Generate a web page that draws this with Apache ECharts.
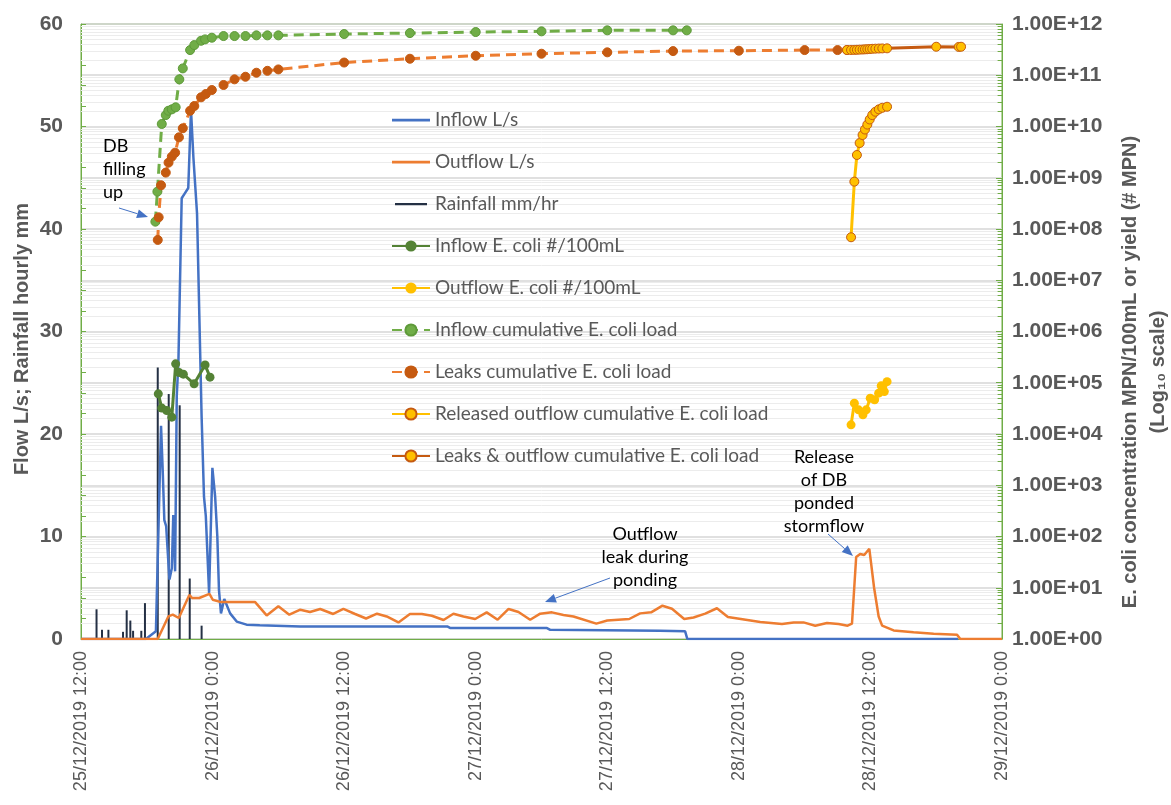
<!DOCTYPE html>
<html>
<head>
<meta charset="utf-8">
<script src="https://cdn.jsdelivr.net/npm/echarts@6/dist/echarts.min.js"></script>
<style>
  html, body { margin: 0; padding: 0; background: #ffffff; }
  #chart { width: 1171px; height: 805px; }
</style>
</head>
<body>
<div id="chart"></div>
<script>
// ---- Detention basin event, 25-29 December 2019 ----
// Times are written as "DD/MM HH:MM" (December 2019).

// Rainfall, mm/hr
const rainTimes = ['25/12 13:25','25/12 13:55','25/12 14:30','25/12 15:50','25/12 16:10','25/12 16:30','25/12 16:45',
  '25/12 17:30','25/12 17:50','25/12 19:00','25/12 20:00','25/12 21:00','25/12 21:55','25/12 23:00'];
const rainMm = [2.9, 0.9, 0.9, 0.7, 2.8, 1.8, 0.8, 0.8, 3.5, 26.5, 23.9, 22.8, 5.9, 1.3];

// Inflow, L/s
const inflowTimes = ['25/12 12:00','25/12 17:55','25/12 18:50','25/12 19:18','25/12 19:27','25/12 19:36','25/12 19:46',
  '25/12 20:04','25/12 20:17','25/12 20:25','25/12 20:35','25/12 20:44','25/12 20:53','25/12 21:11','25/12 21:29',
  '25/12 21:47','25/12 22:02','25/12 22:15','25/12 22:35','25/12 22:52','25/12 23:00','25/12 23:13','25/12 23:23',
  '25/12 23:41','25/12 23:59','26/12 00:14','26/12 00:26','26/12 00:35','26/12 00:46','26/12 01:04','26/12 01:36',
  '26/12 02:12','26/12 03:06','26/12 04:18','26/12 08:00','26/12 21:24','26/12 21:42','27/12 06:30','27/12 06:48',
  '27/12 16:48','27/12 19:06','27/12 19:18','28/12 20:00'];
const inflowLps = [0, 0, 0.75, 20.8, 16.5, 11.6, 11, 5.8, 6.9, 12.1, 6.6, 23.7, 27, 43, 43.5,
  44, 51.6, 47, 41.5, 28, 21.7, 13.9, 12, 4.5, 16.7, 13.9, 10, 4.8, 2.5, 3.9, 2.5,
  1.7, 1.4, 1.33, 1.23, 1.23, 1.07, 1.07, 0.9, 0.8, 0.75, 0, 0];

// Outflow, L/s
const outflowTimes = ['25/12 12:00','25/12 19:00','25/12 19:58','25/12 20:22','25/12 20:55','25/12 21:53','25/12 22:08',
  '25/12 22:47','25/12 23:43','26/12 00:01','26/12 00:46','26/12 03:53','26/12 04:56','26/12 06:00','26/12 07:00',
  '26/12 08:00','26/12 08:53','26/12 09:49','26/12 11:00','26/12 11:56','26/12 13:00','26/12 14:00','26/12 15:00',
  '26/12 15:53','26/12 16:57','26/12 18:00','26/12 19:05','26/12 20:00','26/12 21:04','26/12 21:58','26/12 22:53',
  '26/12 23:57','27/12 01:00','27/12 02:00','27/12 03:00','27/12 03:54','27/12 04:58','27/12 05:53','27/12 06:57',
  '27/12 08:00','27/12 08:55','27/12 11:00','27/12 12:00','27/12 14:00','27/12 15:00','27/12 16:00','27/12 17:02',
  '27/12 17:54','27/12 19:01','27/12 19:52','27/12 20:56','27/12 22:00','27/12 23:00','28/12 01:57','28/12 03:56',
  '28/12 05:00','28/12 05:54','28/12 06:58','28/12 08:02','28/12 09:06','28/12 09:55','28/12 10:19','28/12 10:42',
  '28/12 11:04','28/12 11:26','28/12 11:54','28/12 12:20','28/12 12:45','28/12 13:04','28/12 14:07','28/12 15:56',
  '28/12 17:46','28/12 19:54','28/12 20:12','29/12 00:00'];
const outflowLps = [0, 0, 2.2, 2.37, 2.05, 4.3, 4.0,
  4.0, 4.4, 3.83, 3.6, 3.6, 2.3, 3.2, 2.37,
  2.86, 2.63, 2.93, 2.44, 2.93, 2.44, 2.0, 2.47,
  2.2, 1.62, 2.44, 2.44, 2.27, 1.85, 2.47, 2.2,
  1.95, 2.6, 1.88, 2.93, 2.63, 1.88, 2.47, 2.6,
  2.34, 2.2, 1.5, 1.8, 1.95, 2.5, 2.6, 3.25,
  2.95, 1.95, 2.1, 2.47, 3.0, 2.14, 1.66, 1.46,
  1.62, 1.62, 1.3, 1.56, 1.46, 1.3, 1.5, 8.0,
  8.3, 8.2, 8.8, 5.0, 2.2, 1.3, 0.84, 0.65,
  0.52, 0.42, 0, 0];

// Inflow E. coli, MPN/100mL
const inflowEcoliTimes = ['25/12 19:03','25/12 19:22','25/12 19:49','25/12 20:17','25/12 20:38','25/12 20:57',
  '25/12 21:20','25/12 22:19','25/12 23:19','25/12 23:46'];
const inflowEcoli = [60800, 32000, 28700, 21300, 234000, 158000, 147000, 95300, 223000, 128500];

// Outflow E. coli, MPN/100mL
const outflowEcoliTimes = ['28/12 10:14','28/12 10:32','28/12 10:55','28/12 11:19','28/12 11:37','28/12 11:59',
  '28/12 12:23','28/12 12:45','28/12 12:59','28/12 13:16','28/12 13:31'];
const outflowEcoli = [15100, 40000, 29600, 23700, 29600, 50100, 46500, 62700, 87100, 67300, 105000];

// Inflow cumulative E. coli load, MPN
const inflowCumTimes = ['25/12 18:47','25/12 18:58','25/12 19:22','25/12 19:44','25/12 19:58','25/12 20:17',
  '25/12 20:38','25/12 20:58','25/12 21:17','25/12 21:57','25/12 22:20','25/12 22:57','25/12 23:19','25/12 23:56',
  '26/12 01:00','26/12 02:00','26/12 03:00','26/12 04:00','26/12 05:00','26/12 06:00','26/12 12:00','26/12 18:00',
  '27/12 00:00','27/12 06:00','27/12 12:00','27/12 18:00','27/12 19:15'];
const inflowCum = [1.39e8, 5.36e8, 1.12e10, 1.67e10, 2.03e10, 2.16e10,
  2.37e10, 8.32e10, 1.36e11, 3.10e11, 3.88e11, 4.71e11, 5.01e11, 5.40e11,
  5.82e11, 5.82e11, 5.82e11, 6.0e11, 6.0e11, 6.0e11, 6.37e11, 6.65e11,
  6.97e11, 7.19e11, 7.52e11, 7.52e11, 7.52e11];

// Leaks cumulative E. coli load, MPN
const leaksCumTimes = ['25/12 19:00','25/12 19:05','25/12 19:18','25/12 19:44','25/12 19:59','25/12 20:17',
  '25/12 20:35','25/12 20:56','25/12 21:17','25/12 21:57','25/12 22:20','25/12 22:57','25/12 23:23','25/12 23:56',
  '26/12 01:00','26/12 02:00','26/12 03:00','26/12 04:00','26/12 05:00','26/12 06:00','26/12 12:00','26/12 18:00',
  '27/12 00:00','27/12 06:00','27/12 12:00','27/12 18:00','28/12 00:00','28/12 06:00','28/12 09:00','28/12 09:52'];
const leaksCum = [6.12e7, 1.69e8, 7.13e8, 1.26e9, 1.97e9, 2.58e9,
  3.08e9, 6.15e9, 9.23e9, 2.03e10, 2.51e10, 3.71e10, 4.31e10, 5.15e10,
  6.46e10, 8.32e10, 9.35e10, 1.12e11, 1.22e11, 1.30e11, 1.77e11, 2.10e11,
  2.40e11, 2.63e11, 2.80e11, 2.96e11, 3.01e11, 3.10e11, 3.10e11, 3.11e11];

// Released outflow cumulative E. coli load, MPN
const releasedCumTimes = ['28/12 10:14','28/12 10:32','28/12 10:46','28/12 11:01','28/12 11:17','28/12 11:30',
  '28/12 11:43','28/12 11:56','28/12 12:10','28/12 12:27','28/12 12:46','28/12 13:05','28/12 13:31'];
const releasedCum = [6.9e7, 8.4e8, 2.78e9, 4.76e9, 6.82e9, 8.73e9, 1.09e10, 1.37e10, 1.67e10, 1.94e10, 2.16e10, 2.32e10, 2.43e10];

// Leaks & outflow cumulative E. coli load, MPN
const totalCumTimes = ['28/12 09:52','28/12 10:14','28/12 10:32','28/12 10:46','28/12 11:01','28/12 11:17','28/12 11:30',
  '28/12 11:43','28/12 11:56','28/12 12:10','28/12 12:27','28/12 12:46','28/12 13:05','28/12 13:31','28/12 18:00',
  '28/12 20:03','28/12 20:16'];
const totalCum = [3.11e11, 3.11e11, 3.12e11, 3.14e11, 3.16e11, 3.18e11, 3.20e11,
  3.22e11, 3.25e11, 3.28e11, 3.30e11, 3.32e11, 3.34e11, 3.35e11, 3.60e11,
  3.57e11, 3.60e11];

// ---- helpers ----
// hours since 25/12/2019 12:00
function hoursOf(s) {
  const m = s.match(/(\d+)\/(\d+) (\d+):(\d+)/);
  return (+m[1] - 25) * 24 + (+m[3]) - 12 + (+m[4]) / 60;
}
function pts(times, vals) { return times.map((t, i) => [hoursOf(t), vals[i]]); }
function timeLabel(h) {
  const t = 12 + h;
  const day = 25 + Math.floor(t / 24);
  const hr = Math.round(t % 24);
  return day + '/12/2019 ' + hr + ':00';
}
function sciLabel(v) {
  const e = Math.round(Math.log10(v));
  return '1.00E+' + String(e).padStart(2, '0');
}

const X_MAX = 84;  // 29/12/2019 0:00

// log sub-decade positions 2..9 x 10^e: light gridlines and short minor ticks on the right axis
const minorGrid = [];
const minorTicks = [];
for (let e = 0; e < 12; e++) {
  for (let k = 2; k <= 9; k++) {
    const v = k * Math.pow(10, e);
    minorGrid.push({ yAxis: v });
    minorTicks.push([{ coord: [X_MAX - 0.4, v] }, { coord: [X_MAX, v] }]);
  }
}

const UI = 'Lato, "Liberation Sans", sans-serif';
const AX = '"Liberation Sans", Arial, sans-serif';
const GREY = '#595959';
const AXIS_GREEN = '#70AD47';
// plain line legend icons (thin bar centred in the 38x14 icon box)
const LINE_ICON = 'path://M0,0h0.01v0.01h-0.01z M0,5.8h38v2.6h-38z M37.99,13.99h0.01v0.01h-0.01z';
const SHORT_LINE_ICON = 'path://M0,0h0.01v0.01h-0.01z M3,6h32v2.2h-32z M37.99,13.99h0.01v0.01h-0.01z';

// annotation arrow: thin blue line with filled head
function arrow(x1, y1, x2, y2) {
  const a = Math.atan2(y2 - y1, x2 - x1), L = 11, W = 4.5;
  const bx = x2 - L * Math.cos(a), by = y2 - L * Math.sin(a);
  const px = -Math.sin(a) * W, py = Math.cos(a) * W;
  return [
    { type: 'line', silent: true, z: 50, shape: { x1, y1, x2: bx, y2: by }, style: { stroke: '#4472C4', lineWidth: 1 } },
    { type: 'polygon', silent: true, z: 50, shape: { points: [[x2, y2], [bx + px, by + py], [bx - px, by - py]] }, style: { fill: '#4472C4' } }
  ];
}
function note(text, x, y, align) {
  return { type: 'text', silent: true, z: 50, x, y,
    style: { text, fill: '#000', font: '18px ' + UI, align: align || 'left', verticalAlign: 'top', lineHeight: 23 } };
}
function axisTitle(text, x, y) {
  return { type: 'text', silent: true, z: 50, x, y, rotation: Math.PI / 2,
    style: { text, fill: GREY, font: 'bold 20px ' + AX, align: 'center', verticalAlign: 'middle', lineHeight: 28 } };
}

const chart = echarts.init(document.getElementById('chart'));
chart.setOption({
  animation: false,
  backgroundColor: '#ffffff',
  grid: { left: 81, top: 24, width: 921, height: 615, outerBoundsMode: 'none', containLabel: false,
    show: true, borderColor: AXIS_GREEN, borderWidth: 1, backgroundColor: 'transparent' },
  legend: {
    orient: 'vertical', left: 386, top: 105,
    itemWidth: 38, itemHeight: 14, itemGap: 22,
    textStyle: { fontFamily: UI, fontSize: 19, color: GREY, lineHeight: 20 },
    data: [
      { name: 'Inflow L/s', icon: LINE_ICON },
      { name: 'Outflow L/s', icon: LINE_ICON },
      { name: 'Rainfall mm/hr', icon: SHORT_LINE_ICON },
      'Inflow E. coli #/100mL', 'Outflow E. coli #/100mL', 'Inflow cumulative E. coli load',
      'Leaks cumulative E. coli load', 'Released outflow cumulative E. coli load', 'Leaks & outflow cumulative E. coli load'
    ]
  },
  xAxis: {
    type: 'value', min: 0, max: X_MAX, interval: 12,
    axisLine: { show: true, lineStyle: { color: AXIS_GREEN, width: 1 } },
    axisTick: { show: false },
    splitLine: { show: false },
    axisLabel: { rotate: 90, margin: 12, color: GREY, fontFamily: AX, fontSize: 18, formatter: timeLabel }
  },
  yAxis: [
    {
      type: 'value', min: 0, max: 60, interval: 10,
      axisLine: { show: true, lineStyle: { color: AXIS_GREEN } },
      axisTick: { show: true, inside: true, length: 5, lineStyle: { color: AXIS_GREEN } },
      minorTick: { show: true, splitNumber: 5, length: 5, lineStyle: { color: AXIS_GREEN } },
      splitLine: { show: false },
      axisLabel: { color: GREY, fontFamily: AX, fontSize: 21, fontWeight: 'bold', margin: 18 }
    },
    {
      type: 'log', logBase: 10, min: 1, max: 1e12, interval: 1, position: 'right',
      axisLine: { show: true, lineStyle: { color: AXIS_GREEN } },
      axisTick: { show: true, inside: true, length: 6, lineStyle: { color: AXIS_GREEN } },
      splitLine: { show: true, lineStyle: { color: '#D6D6D6', width: 1.5 } },
      axisLabel: { color: GREY, fontFamily: AX, fontSize: 21, fontWeight: 'bold', margin: 10, formatter: sciLabel }
    }
  ],
  series: [
    { type: 'line', yAxisIndex: 1, data: [], silent: true, z: 1,
      markLine: { silent: true, z: 1, symbol: ['none', 'none'], label: { show: false }, animation: false,
        lineStyle: { color: '#ECECEC', width: 1, type: 'solid' }, data: minorGrid } },
    { type: 'line', yAxisIndex: 1, data: [], silent: true, z: 3,
      markLine: { silent: true, z: 3, symbol: ['none', 'none'], label: { show: false }, animation: false,
        lineStyle: { color: AXIS_GREEN, width: 1, type: 'solid' }, data: minorTicks } },
    { name: 'Inflow L/s', type: 'line', yAxisIndex: 0, data: pts(inflowTimes, inflowLps),
      symbol: 'none', lineStyle: { color: '#4472C4', width: 2.5 }, itemStyle: { color: '#4472C4' } },
    { name: 'Outflow L/s', type: 'line', yAxisIndex: 0, data: pts(outflowTimes, outflowLps),
      symbol: 'none', lineStyle: { color: '#ED7D31', width: 2.5 }, itemStyle: { color: '#ED7D31' } },
    { name: 'Rainfall mm/hr', type: 'bar', yAxisIndex: 0, data: pts(rainTimes, rainMm),
      barWidth: 2, itemStyle: { color: '#243044' } },
    { name: 'Inflow E. coli #/100mL', type: 'line', yAxisIndex: 1, data: pts(inflowEcoliTimes, inflowEcoli),
      symbol: 'circle', symbolSize: 9, lineStyle: { color: '#548235', width: 3 }, itemStyle: { color: '#548235' } },
    { name: 'Outflow E. coli #/100mL', type: 'line', yAxisIndex: 1, data: pts(outflowEcoliTimes, outflowEcoli),
      symbol: 'circle', symbolSize: 9, lineStyle: { color: '#FFC000', width: 3 }, itemStyle: { color: '#FFC000' } },
    { name: 'Inflow cumulative E. coli load', type: 'line', yAxisIndex: 1, data: pts(inflowCumTimes, inflowCum),
      symbol: 'circle', symbolSize: 9, lineStyle: { color: '#70AD47', width: 3, type: [10, 6] },
      itemStyle: { color: '#70AD47', borderColor: '#5E9A3A', borderWidth: 1 } },
    { name: 'Leaks cumulative E. coli load', type: 'line', yAxisIndex: 1, data: pts(leaksCumTimes, leaksCum),
      symbol: 'circle', symbolSize: 9, lineStyle: { color: '#ED7D31', width: 3, type: [10, 6] },
      itemStyle: { color: '#C55A11', borderColor: '#C55A11', borderWidth: 1 } },
    { name: 'Released outflow cumulative E. coli load', type: 'line', yAxisIndex: 1, data: pts(releasedCumTimes, releasedCum),
      symbol: 'circle', symbolSize: 9, lineStyle: { color: '#FFC000', width: 3 },
      itemStyle: { color: '#FFC000', borderColor: '#C55A11', borderWidth: 1 } },
    { name: 'Leaks & outflow cumulative E. coli load', type: 'line', yAxisIndex: 1, data: pts(totalCumTimes, totalCum),
      symbol: 'circle', symbolSize: 9, lineStyle: { color: '#C55A11', width: 3 },
      itemStyle: { color: '#FFC000', borderColor: '#C55A11', borderWidth: 1 } }
  ],
  graphic: [
    axisTitle('Flow L/s; Rainfall hourly mm', 22, 339),
    axisTitle('E. coli concentration MPN/100mL or yield (# MPN)\n(Log₁₀ scale)', 1144, 372),
    note('DB\nfilling\nup', 103, 135),
    ...arrow(119, 208, 148, 217),
    note('Outflow\nleak during\nponding', 645, 523, 'center'),
    ...arrow(610, 578, 545, 602),
    note('Release\nof DB\nponded\nstormflow', 824, 446, 'center'),
    ...arrow(828, 534, 853, 556)
  ]
});
</script>
</body>
</html>
